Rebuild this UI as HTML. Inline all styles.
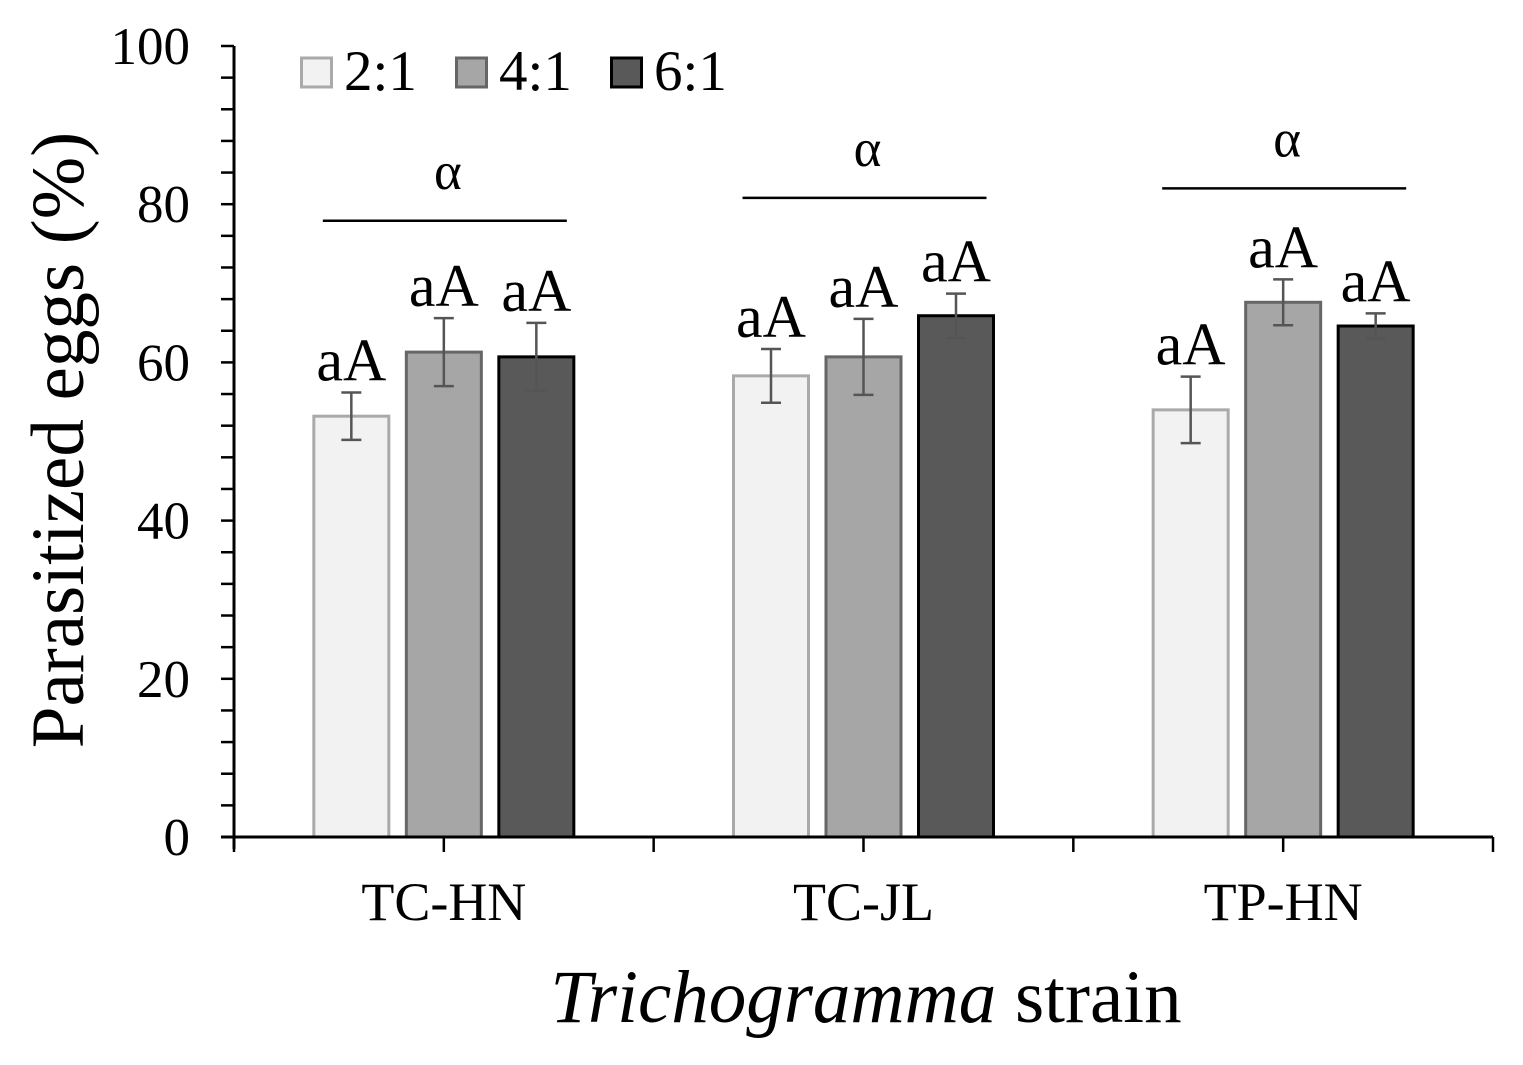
<!DOCTYPE html>
<html><head><meta charset="utf-8"><style>
body{margin:0;background:#fff}
svg{display:block;font-family:"Liberation Serif",serif}
</style></head><body>
<svg id="c" width="1523" height="1065"></svg>
<script>
const categories=["TC-HN","TC-JL","TP-HN"];
const seriesNames=["2:1","4:1","6:1"];
const v21=[53.2,58.3,54.0];
const v41=[61.3,60.7,67.6];
const v61=[60.7,65.9,64.6];
const e21=[3.0,3.4,4.2];
const e41=[4.3,4.8,2.9];
const e61=[4.3,2.8,1.6];
const labels21=["aA","aA","aA"];
const labels41=["aA","aA","aA"];
const labels61=["aA","aA","aA"];
const groupLabels=["α","α","α"];
const groupLineVals=[77.9,80.8,82.0];
const yTicks=[0,20,40,60,80,100];

const NS="http://www.w3.org/2000/svg",svg=document.getElementById("c");
function el(t,a,txt){const e=document.createElementNS(NS,t);for(const k in a)e.setAttribute(k,a[k]);if(txt!=null)e.textContent=txt;svg.appendChild(e);return e;}
const X0=234,X1=1493,Y0=837,Y100=46;
const y=v=>Y0-(Y0-Y100)*v/100;
const gw=(X1-X0)/categories.length;
const gc=i=>X0+gw*(i+0.5);
const off=[-92.5,0,92.5],bw=75;
const fills=["#f2f2f2","#a6a6a6","#595959"],strokes=["#aaaaaa","#666666","#000000"];
const vals=[v21,v41,v61],errs=[e21,e41,e61],labs=[labels21,labels41,labels61];
let ax=el("line",{x1:X0,y1:Y100,x2:X0,y2:Y0+12,stroke:"#000","stroke-width":3});

for(let v=0;v<=100;v+=4){let t=el("line",{x1:X0-13,y1:y(v),x2:X0,y2:y(v),stroke:"#000","stroke-width":2.5});
}
yTicks.forEach(v=>{let t=el("text",{x:190,y:y(v)+18,"text-anchor":"end","font-size":53},v);
});
categories.forEach((c,i)=>{
 for(let s=0;s<3;s++){
  const cx=gc(i)+off[s],v=vals[s][i],e=errs[s][i];
  let r=el("rect",{x:cx-bw/2,y:y(v),width:bw,height:Y0-y(v),fill:fills[s],stroke:strokes[s],"stroke-width":3});
  
  let g=el("path",{d:`M${cx},${y(v+e)}V${y(v-e)}M${cx-10},${y(v+e)}H${cx+10}M${cx-10},${y(v-e)}H${cx+10}`,stroke:"#555","stroke-width":2.5,fill:"none"});
  
  let t=el("text",{x:cx,y:y(v+e)-12,"text-anchor":"middle","font-size":60},labs[s][i]);
  
 }
 const ly=y(groupLineVals[i]);
 let l=el("line",{x1:gc(i)-121,y1:ly,x2:gc(i)+123,y2:ly,stroke:"#000","stroke-width":2.5});
 
 let a=el("text",{x:gc(i)+4,y:ly-32,"text-anchor":"middle","font-size":53},groupLabels[i]);
 
 let xl=el("text",{x:gc(i),y:920,"text-anchor":"middle","font-size":54},c);
 
});
let xa=el("line",{x1:X0-13,y1:Y0,x2:X1,y2:Y0,stroke:"#000","stroke-width":3});

for(let k=0;k<=categories.length*2;k++){let t=el("line",{x1:X0+gw/2*k,y1:Y0,x2:X0+gw/2*k,y2:Y0+15,stroke:"#000","stroke-width":2.5});
}
const lx=[300,455,610];
seriesNames.forEach((n,s)=>{
 let b=el("rect",{x:lx[s]+1.5,y:58,width:30,height:29,fill:fills[s],stroke:strokes[s],"stroke-width":3});
 
 let t=el("text",{x:lx[s]+44,y:90,"font-size":57},n);
 
});
let yt=el("text",{x:0,y:0,"font-size":75,"text-anchor":"middle",transform:"translate(83,440) rotate(-90)"},"Parasitized eggs (%)");

let xt=el("text",{x:866,y:1022,"font-size":75,"text-anchor":"middle"});

const ts=document.createElementNS(NS,"tspan");ts.setAttribute("font-style","italic");ts.textContent="Trichogramma";xt.appendChild(ts);
xt.appendChild(document.createTextNode(" strain"));
</script>
</body></html>
